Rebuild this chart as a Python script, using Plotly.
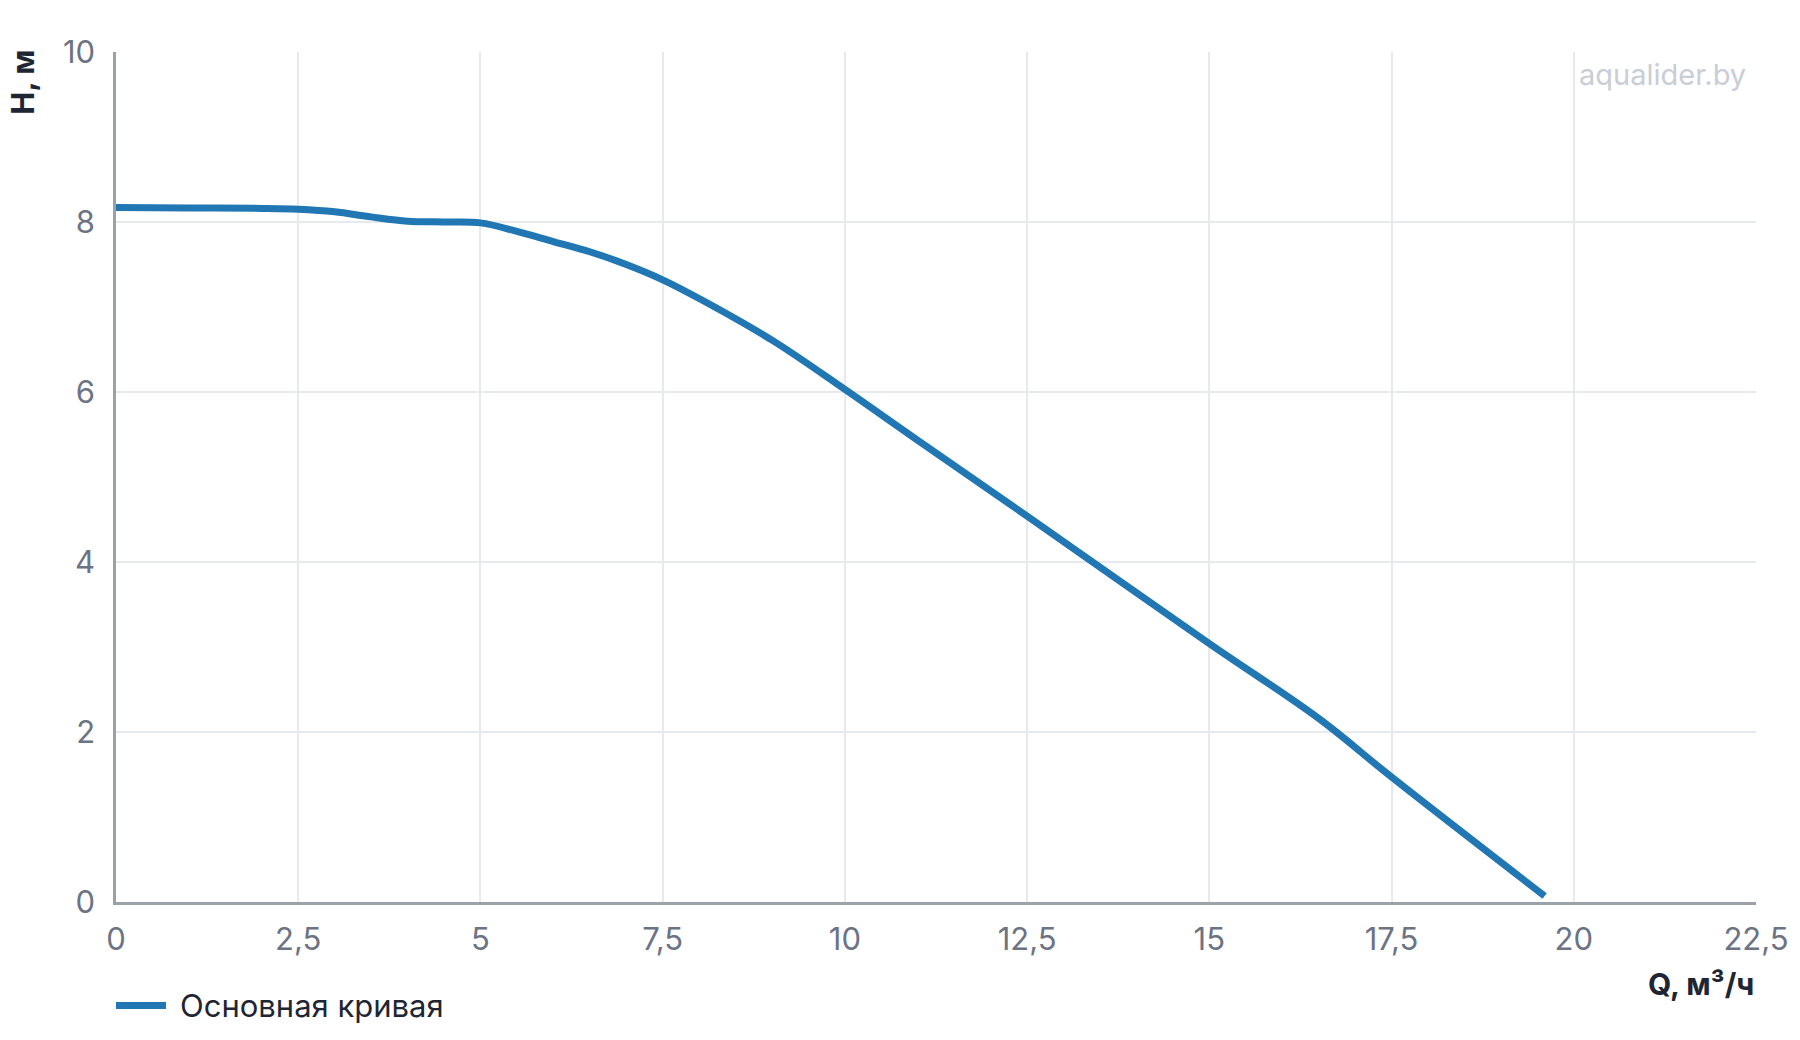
import plotly.graph_objects as go

# Data: pump curve Q (m3/h) vs H (m)
q_values = [0, 1, 2, 2.5, 3, 3.5, 4, 4.5, 5, 5.5, 6, 6.5, 7, 7.5, 8, 9, 10, 11, 12.5, 15, 16.5, 17.5, 19.6]
h_values = [8.17, 8.165, 8.16, 8.15, 8.12, 8.06, 8.01, 8.0, 7.99, 7.89, 7.77, 7.65, 7.5, 7.32, 7.1, 6.61, 6.03, 5.43, 4.54, 3.04, 2.16, 1.47, 0.07]
series_name = "Основная кривая"

x_tickvals = [0, 2.5, 5, 7.5, 10, 12.5, 15, 17.5, 20, 22.5]
x_ticktext = ["0", "2,5", "5", "7,5", "10", "12,5", "15", "17,5", "20", "22,5"]
y_tickvals = [0, 2, 4, 6, 8, 10]
y_ticktext = ["0", "2", "4", "6", "8", "10"]

x_title = "Q, м³/ч"
y_title = "H, м"
watermark = "aqualider.by"

FONT = "Inter"
TICK_COLOR = "#6b7385"
DARK = "#1f2633"
GRID = "#e6e9ee"
AXIS = "#9aa1ab"
LINE_COLOR = "#2077b4"
FS = 31

fig = go.Figure()
fig.add_trace(go.Scatter(
    x=q_values, y=h_values, name=series_name, mode="lines",
    line=dict(color=LINE_COLOR, width=7, shape="spline", smoothing=1.0),
    showlegend=False,
))

fig.update_layout(
    width=1800, height=1040,
    margin=dict(l=116, r=44, t=52, b=138, autoexpand=False),
    paper_bgcolor="white", plot_bgcolor="white",
    font=dict(family=FONT, size=FS, color=TICK_COLOR),
    xaxis=dict(
        range=[0, 22.5], tickvals=x_tickvals, ticktext=x_ticktext,
        showgrid=True, gridcolor=GRID, gridwidth=1.5,
        showline=True, linecolor=AXIS, linewidth=2.5,
        zeroline=False, ticks="", ticklabelstandoff=8,
        tickfont=dict(family=FONT, size=FS, color=TICK_COLOR),
    ),
    yaxis=dict(
        range=[0, 10], tickvals=y_tickvals, ticktext=y_ticktext,
        showgrid=True, gridcolor=GRID, gridwidth=1.5,
        showline=True, linecolor=AXIS, linewidth=2.5,
        zeroline=False, ticks="", ticklabelstandoff=12,
        tickfont=dict(family=FONT, size=FS, color=TICK_COLOR),
    ),
    showlegend=False,
)

# Legend (swatch + label)
fig.add_shape(
    type="line", xref="paper", yref="paper",
    x0=0.0, x1=0.0305, y0=-0.1219, y1=-0.1219,
    line=dict(color=LINE_COLOR, width=7),
)
fig.add_annotation(
    text=series_name, xref="paper", yref="paper",
    x=0.0378, y=-0.1219, xanchor="left", yanchor="middle",
    showarrow=False,
    font=dict(family=FONT, size=FS, color=DARK),
)

fig.add_annotation(
    text=f"<b>{y_title}</b>", xref="paper", yref="paper",
    x=-0.057, y=1.005, xanchor="center", yanchor="top",
    textangle=-90, showarrow=False,
    font=dict(family=FONT, size=FS, color=DARK),
)
fig.add_annotation(
    text=f"<b>{x_title}</b>", xref="paper", yref="paper",
    x=1.0, y=-0.097, xanchor="right", yanchor="middle",
    showarrow=False,
    font=dict(family=FONT, size=30, color=DARK),
)
fig.add_annotation(
    text=watermark, xref="paper", yref="paper",
    x=1.0, y=1.0, xanchor="right", yanchor="top", xshift=-8, yshift=-3,
    showarrow=False,
    font=dict(family=FONT, size=29, color="#c9ced6"),
)

fig.write_html("out.html")
